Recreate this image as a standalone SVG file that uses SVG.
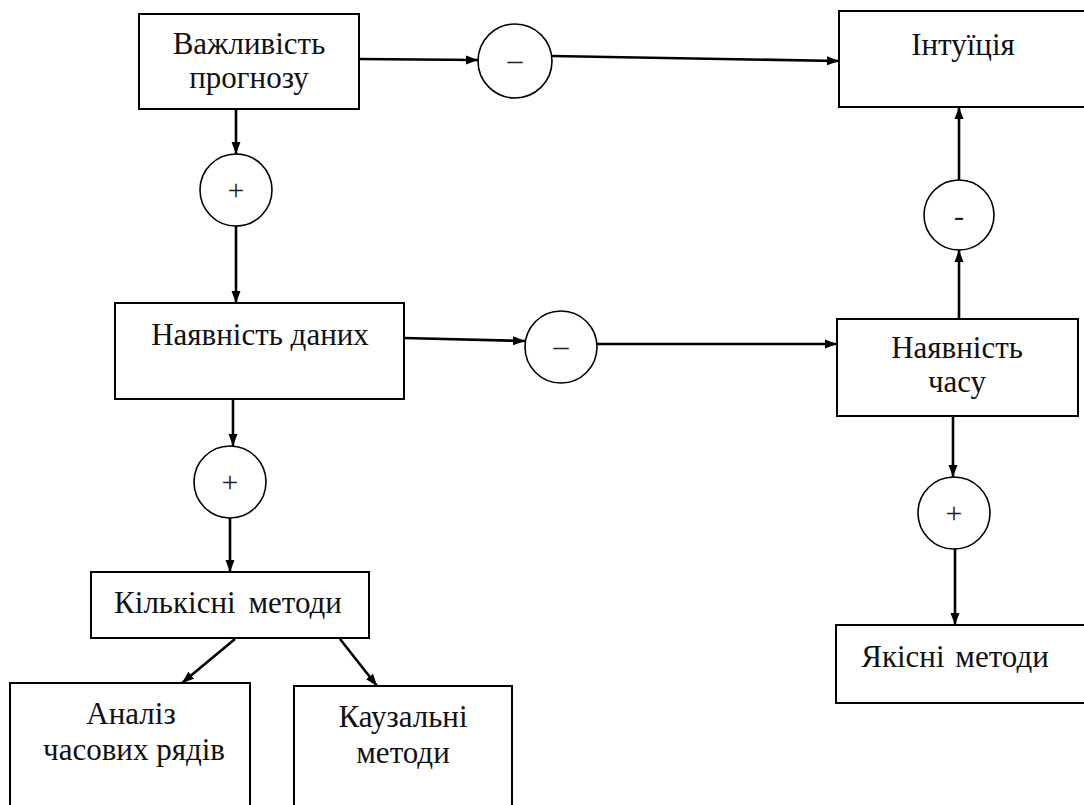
<svg xmlns="http://www.w3.org/2000/svg" width="1084" height="805" viewBox="0 0 1084 805">
<style>
.box{fill:#fff;stroke:#000;stroke-width:2}
.sum{fill:#fff;stroke:#000;stroke-width:1.6}
.t{font-family:"Liberation Serif","Times New Roman",serif;font-size:31px;fill:#111;text-anchor:middle}
.s{font-family:"Liberation Serif","Times New Roman",serif;font-size:30px;fill:#222;text-anchor:middle}
.c{fill:none;stroke:#000;stroke-width:2.6;marker-end:url(#ah)}
</style>
<defs>
<marker id="ah" markerUnits="userSpaceOnUse" markerWidth="12" markerHeight="12" viewBox="0 0 12 12" refX="12" refY="6" orient="auto">
<path d="M0,1.5 L12,6 L0,10.5 Z" fill="#000"/>
</marker>
</defs>
<rect width="1084" height="805" fill="#fff"/>
<g id="connectors">
<line class="c" x1="359" y1="59" x2="478" y2="60"/>
<line class="c" x1="552" y1="56" x2="839" y2="61"/>
<line class="c" x1="236" y1="109" x2="236" y2="154"/>
<line class="c" x1="236" y1="226" x2="236" y2="303"/>
<line class="c" x1="404" y1="338" x2="525" y2="341"/>
<line class="c" x1="597" y1="344" x2="837" y2="344"/>
<line class="c" x1="959" y1="319" x2="959" y2="250"/>
<line class="c" x1="959" y1="180" x2="959" y2="107"/>
<line class="c" x1="233" y1="399" x2="233" y2="446"/>
<line class="c" x1="230" y1="518" x2="230" y2="572"/>
<line class="c" x1="953" y1="416" x2="953" y2="477"/>
<line class="c" x1="955" y1="549" x2="955" y2="625"/>
<line class="c" x1="235" y1="639" x2="182" y2="683"/>
<line class="c" x1="340" y1="639" x2="377" y2="686"/>
</g>
<g id="n-importance"><rect class="box" x="139" y="14" width="220" height="95"/><text class="t" x="249" y="54">Важливість</text><text class="t" x="249" y="88">прогнозу</text></g>
<g id="n-intuition"><rect class="box" x="839" y="11" width="260" height="96"/><text class="t" x="963" y="55">Інтуїція</text></g>
<g id="n-data"><rect class="box" x="115" y="303" width="289" height="96"/><text class="t" x="260" y="345">Наявність даних</text></g>
<g id="n-time"><rect class="box" x="837" y="319" width="241" height="97"/><text class="t" x="957" y="358">Наявність</text><text class="t" x="957" y="392">часу</text></g>
<g id="n-quant"><rect class="box" x="91" y="572" width="278" height="66"/><text class="t" x="228" y="613" word-spacing="5">Кількісні методи</text></g>
<g id="n-ts"><rect class="box" x="10" y="683" width="240" height="140"/><text class="t" x="131" y="724">Аналіз</text><text class="t" x="134" y="760">часових рядів</text></g>
<g id="n-causal"><rect class="box" x="294" y="686" width="218" height="140"/><text class="t" x="403" y="727">Каузальні</text><text class="t" x="403" y="763">методи</text></g>
<g id="n-qual"><rect class="box" x="836" y="625" width="260" height="78"/><text class="t" x="955" y="667" word-spacing="3">Якісні методи</text></g>
<g id="s1"><circle class="sum" cx="515" cy="61" r="37"/><text class="s" x="515" y="70">–</text></g>
<g id="s2"><circle class="sum" cx="236" cy="190" r="36"/><text class="s" x="236" y="200">+</text></g>
<g id="s3"><circle class="sum" cx="561" cy="347" r="36"/><text class="s" x="561" y="356">–</text></g>
<g id="s4"><circle class="sum" cx="230" cy="482" r="36"/><text class="s" x="230" y="492">+</text></g>
<g id="s5"><circle class="sum" cx="959" cy="215" r="35"/><text class="s" x="959" y="226">-</text></g>
<g id="s6"><circle class="sum" cx="954" cy="513" r="36"/><text class="s" x="954" y="523">+</text></g>
</svg>
